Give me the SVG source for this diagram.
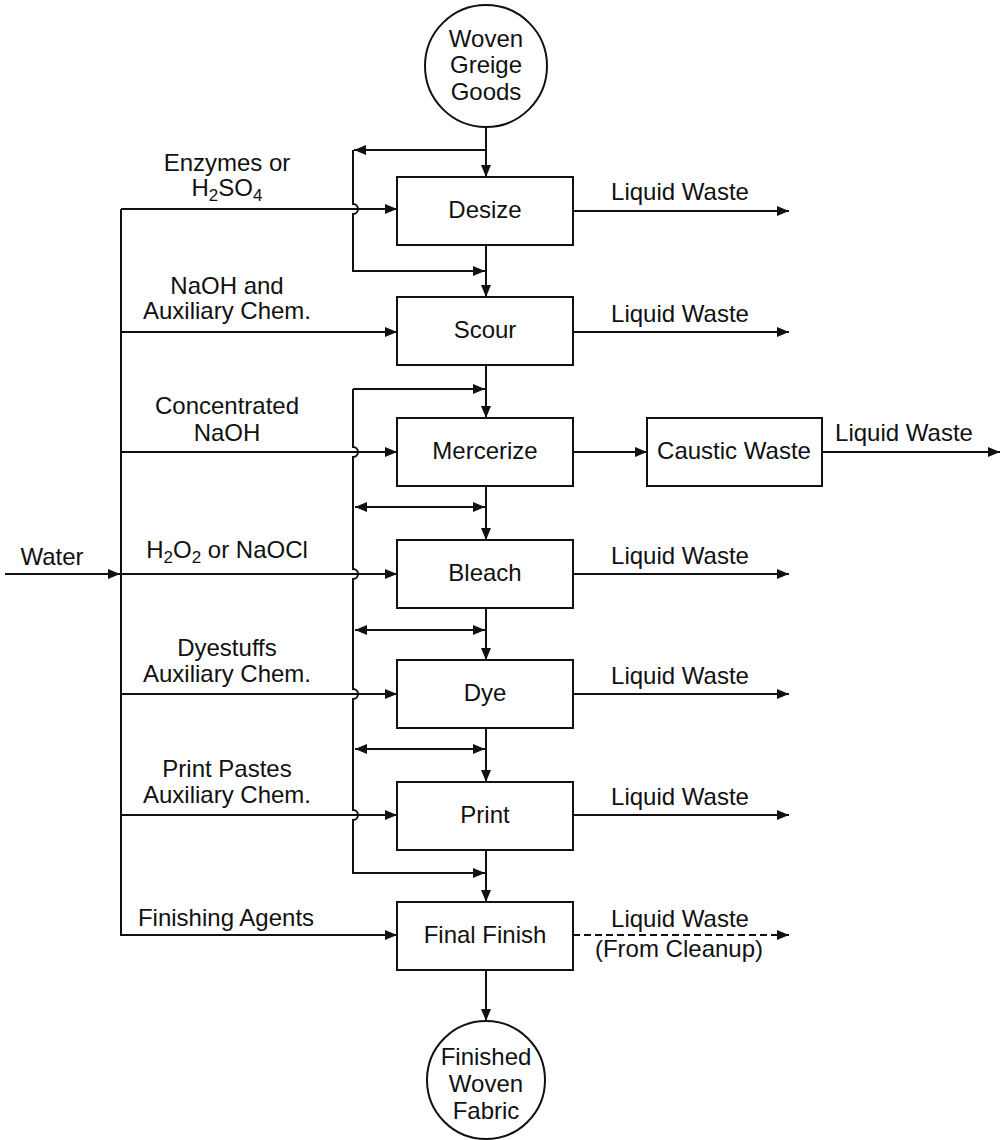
<svg xmlns="http://www.w3.org/2000/svg" width="1007" height="1140" viewBox="0 0 1007 1140">
  <style>
    text { font-family: "Liberation Sans", Arial, sans-serif; font-size: 24px; fill: #111; text-anchor: middle; }
    .box { fill: #fff; stroke: #111; stroke-width: 2; }
    .ln { fill: none; stroke: #111; stroke-width: 2; }
    .arr { marker-end: url(#ah); }
    .dbl { marker-start: url(#ah); marker-end: url(#ah); }
    .dash { stroke-dasharray: 7 4; }
    .sub { font-size: 17px; }
  </style>
  <defs>
    <marker id="ah" markerUnits="userSpaceOnUse" markerWidth="13" markerHeight="10" refX="12" refY="5" orient="auto-start-reverse">
      <path d="M0,0 L12,5 L0,10 z" fill="#111"/>
    </marker>
  </defs>

  <rect width="1007" height="1140" fill="#fff"/>

  <!-- connectors -->
  <g id="connectors">
    <!-- main fabric path -->
    <line class="ln arr" x1="486" y1="127" x2="486" y2="177"/>
    <line class="ln arr" x1="486" y1="245" x2="486" y2="297"/>
    <line class="ln arr" x1="486" y1="365" x2="486" y2="418"/>
    <line class="ln arr" x1="486" y1="486" x2="486" y2="540"/>
    <line class="ln arr" x1="486" y1="608" x2="486" y2="660"/>
    <line class="ln arr" x1="486" y1="728" x2="486" y2="782"/>
    <line class="ln arr" x1="486" y1="849" x2="486" y2="902"/>
    <line class="ln arr" x1="486" y1="970" x2="486" y2="1021"/>

    <!-- desize bypass -->
    <line class="ln arr" x1="486" y1="150" x2="354" y2="150"/>
    <path class="ln arr" d="M353,150 V204 a5,5 0 0 1 0,10 V271 H485"/>

    <!-- bypass from scour down to final finish -->
    <path class="ln arr" d="M353,389 H485"/>
    <path class="ln arr" d="M353,389 V447 a5,5 0 0 1 0,10 V569 a5,5 0 0 1 0,10 V689 a5,5 0 0 1 0,10 V810 a5,5 0 0 1 0,10 V873 H485"/>
    <line class="ln dbl" x1="355" y1="507" x2="485" y2="507"/>
    <line class="ln dbl" x1="355" y1="630" x2="485" y2="630"/>
    <line class="ln dbl" x1="355" y1="749" x2="485" y2="749"/>

    <!-- water supply header -->
    <line class="ln arr" x1="5" y1="574" x2="120" y2="574"/>
    <path class="ln arr" d="M121,209 V935 H397"/>
    <line class="ln arr" x1="121" y1="209" x2="397" y2="209"/>
    <line class="ln arr" x1="121" y1="332" x2="397" y2="332"/>
    <line class="ln arr" x1="121" y1="452" x2="397" y2="452"/>
    <line class="ln arr" x1="121" y1="574" x2="397" y2="574"/>
    <line class="ln arr" x1="121" y1="694" x2="397" y2="694"/>
    <line class="ln arr" x1="121" y1="815" x2="397" y2="815"/>

    <!-- waste streams -->
    <line class="ln arr" x1="573" y1="211" x2="789" y2="211"/>
    <line class="ln arr" x1="573" y1="332" x2="789" y2="332"/>
    <line class="ln arr" x1="573" y1="452" x2="647" y2="452"/>
    <line class="ln arr" x1="822" y1="452" x2="1000" y2="452"/>
    <line class="ln arr" x1="573" y1="574" x2="789" y2="574"/>
    <line class="ln arr" x1="573" y1="694" x2="789" y2="694"/>
    <line class="ln arr" x1="573" y1="815" x2="789" y2="815"/>
    <line class="ln arr dash" x1="573" y1="935" x2="789" y2="935"/>
  </g>

  <!-- stream labels -->
  <g id="labels">
    <text x="227" y="171">Enzymes or</text>
    <text x="227" y="196">H<tspan class="sub" dy="5">2</tspan><tspan dy="-5">SO</tspan><tspan class="sub" dy="5">4</tspan></text>
    <text x="227" y="294">NaOH and</text>
    <text x="227" y="319">Auxiliary Chem.</text>
    <text x="227" y="414">Concentrated</text>
    <text x="227" y="441">NaOH</text>
    <text x="227" y="558">H<tspan class="sub" dy="5">2</tspan><tspan dy="-5">O</tspan><tspan class="sub" dy="5">2</tspan><tspan dy="-5"> or NaOCl</tspan></text>
    <text x="227" y="656">Dyestuffs</text>
    <text x="227" y="682">Auxiliary Chem.</text>
    <text x="227" y="777">Print Pastes</text>
    <text x="227" y="803">Auxiliary Chem.</text>
    <text x="226" y="926">Finishing Agents</text>
    <text x="52" y="565">Water</text>

    <text x="680" y="200">Liquid Waste</text>
    <text x="680" y="322">Liquid Waste</text>
    <text x="904" y="441">Liquid Waste</text>
    <text x="680" y="564">Liquid Waste</text>
    <text x="680" y="684">Liquid Waste</text>
    <text x="680" y="805">Liquid Waste</text>
    <text x="680" y="927">Liquid Waste</text>
    <text x="679" y="957">(From Cleanup)</text>
  </g>

  <!-- nodes -->
  <g id="greige-goods">
    <circle class="box" cx="486" cy="66" r="61"/>
    <text x="486" y="47">Woven</text>
    <text x="486" y="73">Greige</text>
    <text x="486" y="100">Goods</text>
  </g>
  <g id="desize">
    <rect class="box" x="397" y="177" width="176" height="68"/>
    <text x="485" y="218">Desize</text>
  </g>
  <g id="scour">
    <rect class="box" x="397" y="297" width="176" height="68"/>
    <text x="485" y="338">Scour</text>
  </g>
  <g id="mercerize">
    <rect class="box" x="397" y="418" width="176" height="68"/>
    <text x="485" y="459">Mercerize</text>
  </g>
  <g id="caustic-waste">
    <rect class="box" x="647" y="418" width="175" height="68"/>
    <text x="734" y="459">Caustic Waste</text>
  </g>
  <g id="bleach">
    <rect class="box" x="397" y="540" width="176" height="68"/>
    <text x="485" y="581">Bleach</text>
  </g>
  <g id="dye">
    <rect class="box" x="397" y="660" width="176" height="68"/>
    <text x="485" y="701">Dye</text>
  </g>
  <g id="print">
    <rect class="box" x="397" y="782" width="176" height="68"/>
    <text x="485" y="823">Print</text>
  </g>
  <g id="final-finish">
    <rect class="box" x="397" y="902" width="176" height="68"/>
    <text x="485" y="943">Final Finish</text>
  </g>
  <g id="finished-fabric">
    <circle class="box" cx="486" cy="1080" r="59"/>
    <text x="486" y="1065">Finished</text>
    <text x="486" y="1092">Woven</text>
    <text x="486" y="1119">Fabric</text>
  </g>
</svg>
